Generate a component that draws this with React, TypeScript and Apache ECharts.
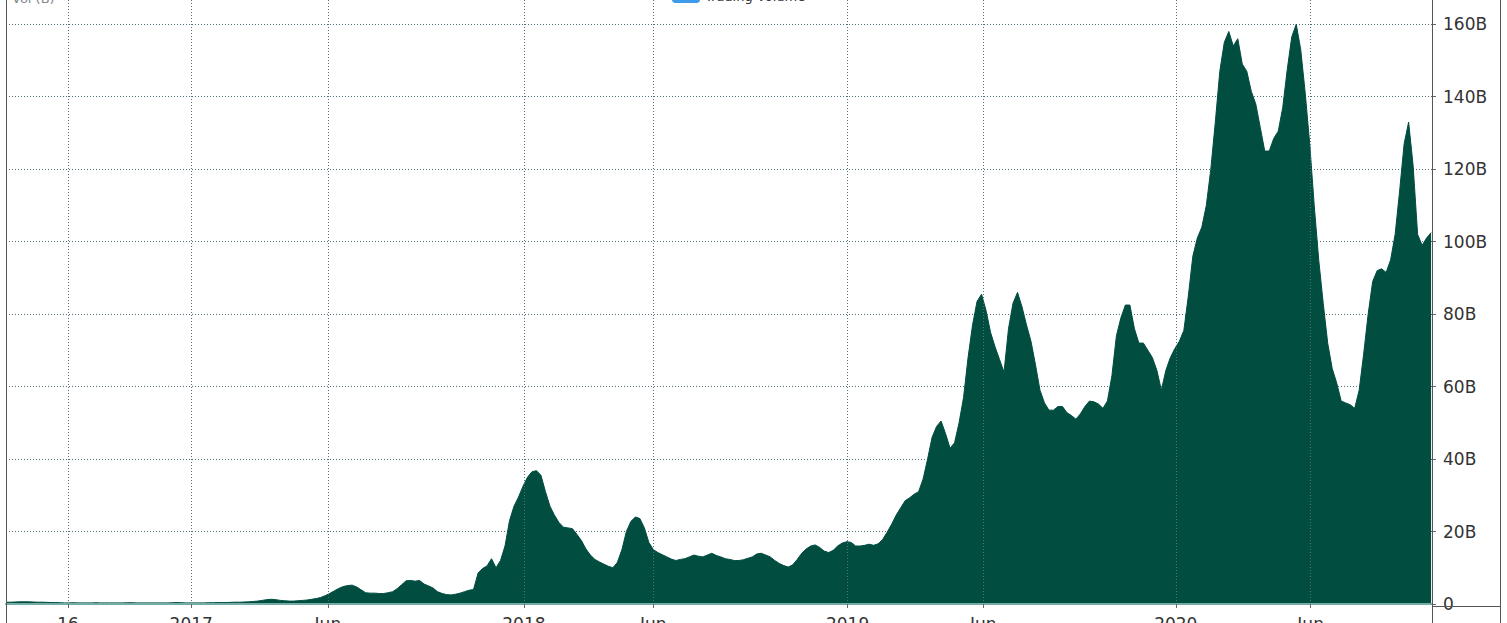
import React, { useEffect, useRef } from 'react';
import * as echarts from 'echarts';

// Five-day samples starting 2016-06-09 (values in billions)
const startYear = 2016;
const startMonth = 5; // June (0-based)
const startDay = 9;
const stepDays = 5;

const volumeB = [
  0.5, 0.5, 0.55, 0.6, 0.6, 0.6, 0.55, 0.5, 0.5, 0.45, 0.4, 0.4, 0.35,
  0.3, 0.3, 0.35, 0.3, 0.3, 0.3, 0.3, 0.35, 0.3, 0.3,
  0.3, 0.3, 0.3, 0.3, 0.35, 0.35, 0.3, 0.3, 0.3, 0.3,
  0.3, 0.3, 0.3, 0.3, 0.35, 0.4, 0.35, 0.3, 0.3, 0.3,
  0.3, 0.3, 0.35, 0.35, 0.4, 0.4, 0.4, 0.45, 0.5, 0.5,
  0.55, 0.6, 0.7,
  0.8, 1.0, 1.2, 1.3, 1.2, 1.0, 0.9, 0.8,
  0.8, 0.9, 1.0, 1.1, 1.3, 1.5,
  1.8, 2.3, 2.9, 3.6, 4.3, 4.8, 5.1, 5.2, 4.7, 3.9,
  3.1, 3.0, 3.0, 2.9, 2.9, 3.1, 3.4, 4.2, 5.3, 6.4,
  6.5, 6.3, 6.5, 5.5, 5.0, 4.4, 3.4, 2.9, 2.6, 2.5,
  2.7, 3.0, 3.4, 3.8, 4.0, 8.5, 9.8, 10.5, 12.5, 10,
  12, 16, 23, 27, 29.5, 32.5, 35, 36.5, 36.8, 35.5,
  31, 27, 24.5, 22.5, 21.2, 21, 20.8, 19.2, 17.5, 15.2,
  13.5, 12.3, 11.6, 11, 10.4, 10, 11.5, 15, 20, 22.8,
  24, 23.6, 21, 17, 15, 14.2, 13.6, 13, 12.4, 12,
  12.3, 12.5, 13, 13.5, 13.2, 13, 13.5, 14, 13.4, 13,
  12.5, 12.3, 12, 12, 12.2, 12.6, 13, 13.8, 14, 13.5,
  13, 12, 11.2, 10.6, 10.2, 10.8, 12.3, 14, 15.2, 16,
  16.3, 15.6, 14.6, 14.2, 14.8, 16, 16.8, 17.2, 17, 16,
  16, 16.2, 16.5, 16.2, 16.6, 17.8, 19.8, 22, 24.5, 26.5,
  28.5, 29.3, 30.3, 31, 34.5, 40, 46, 49, 50.5, 47,
  43, 44.5, 50, 57, 68, 77, 83.5, 85.5, 81, 75,
  71, 67.5, 64, 76, 83, 86, 82, 77, 72.5, 66,
  59, 55.5, 53.5, 53.5, 54.5, 54.5, 52.8, 52, 51, 52.5,
  54.5, 56, 55.8, 55.2, 54, 56, 63, 74, 79, 82.5,
  82.5, 76, 72, 72, 70, 68, 64.5, 59, 64.5, 68,
  70.5, 72.5, 75.5, 85, 96, 101, 104, 110, 120, 133,
  147, 155, 158, 154, 156, 149, 147, 141.5, 138, 131.5,
  125, 125, 128.5, 130.5, 137, 147.5, 156.5, 160, 153, 141,
  127, 110, 95, 83, 72, 65, 61, 56, 55.5, 55,
  54, 59, 69, 80, 89, 92, 92.5, 91.5, 95, 102,
  114, 127, 133, 121, 102, 99, 101, 102.5,
];

const axisMinDate = '2016-06-09';
const axisMaxDate = '2020-10-12';
const tickDates = [
  '2016-08-17', '2017-01-01', '2017-06-02', '2018-01-06', '2018-05-30',
  '2019-01-01', '2019-06-01', '2020-01-01', '2020-05-30',
];
const tickLabels = ['16', '2017', 'Jun', '2018', 'Jun', '2019', 'Jun', '2020', 'Jun'];

const yMin = 0;
const yMax = 170;
const yInterval = 20;

const seriesName = 'Trading Volume';
const unitTitle = 'Vol (B)';

const FILL = '#014d40';
const GRID = '#52707a';
const FRAME = '#555';

function parseLocal(s: string) {
  const [y, m, d] = s.split('-').map(Number);
  return new Date(y, m - 1, d).getTime();
}

export default function App() {
  const ref = useRef<HTMLDivElement>(null);

  useEffect(() => {
    document.body.style.overflow = 'hidden';
    const chart = echarts.init(ref.current!, undefined, { renderer: 'svg' });
    const data = volumeB.map((v, i) => [
      new Date(startYear, startMonth, startDay + i * stepDays).getTime(),
      v,
    ]);
    const tickValues = tickDates.map(parseLocal);
    const labelMap: Record<number, string> = {};
    tickValues.forEach((t, i) => {
      labelMap[t] = tickLabels[i];
    });

    const W = 1507;
    const H = 653;
    const plotRight = 1432;

    chart.setOption({
      animation: false,
      textStyle: { fontFamily: 'DejaVu Sans' },
      grid: {
        left: 6,
        right: W - plotRight,
        top: 18,
        bottom: 19,
        containLabel: false,
        outerBoundsMode: 'none',
      },
      legend: {
        show: true,
        left: 667,
        top: 14,
        itemWidth: 28,
        itemHeight: 14,
        icon: 'roundRect',
        textStyle: { fontSize: 13, color: '#333', fontFamily: 'DejaVu Sans' },
        data: [{ name: seriesName, itemStyle: { color: '#3d9be9' } }],
      },
      xAxis: {
        type: 'value',
        min: parseLocal(axisMinDate),
        max: parseLocal(axisMaxDate),
        z: 10,
        axisLine: { show: true, lineStyle: { color: '#73aca5', width: 2 } },
        axisTick: {
          show: true,
          customValues: tickValues,
          length: 4,
          lineStyle: { color: '#666' },
        },
        axisLabel: {
          customValues: tickValues,
          margin: 11,
          fontSize: 17,
          color: '#333',
          fontFamily: 'DejaVu Sans',
          formatter: (v: number, idx: number) =>
            labelMap[v] !== undefined ? labelMap[v] : tickLabels[idx] ?? '',
        },
        splitLine: {
          show: true,
          lineStyle: { color: GRID, type: [1, 2], width: 1 },
        },
      },
      yAxis: {
        type: 'value',
        position: 'right',
        min: yMin,
        max: yMax,
        interval: yInterval,
        axisLine: { show: false },
        axisTick: { show: true, length: 4, lineStyle: { color: '#666' } },
        axisLabel: {
          margin: 11,
          fontSize: 17,
          color: '#333',
          fontFamily: 'DejaVu Sans',
          formatter: (v: number) => (v === 0 ? '0' : v % 20 === 0 ? `${v}B` : ''),
        },
        splitLine: {
          show: true,
          lineStyle: { color: GRID, type: [1, 2], width: 1 },
        },
      },
      series: [
        {
          name: seriesName,
          type: 'line',
          data,
          showSymbol: false,
          symbol: 'none',
          lineStyle: { color: FILL, width: 1 },
          itemStyle: { color: FILL },
          areaStyle: { color: FILL, opacity: 1 },
        },
      ],
      graphic: [
        {
          type: 'text',
          left: 12,
          top: 22,
          style: { text: unitTitle, fill: '#888', fontSize: 13, fontFamily: 'DejaVu Sans' },
        },
        { type: 'line', shape: { x1: 6.5, y1: 0, x2: 6.5, y2: H }, style: { stroke: FRAME, lineWidth: 1 }, z: 20 },
        { type: 'line', shape: { x1: plotRight + 0.5, y1: 0, x2: plotRight + 0.5, y2: H }, style: { stroke: FRAME, lineWidth: 1 }, z: 20 },
        { type: 'line', shape: { x1: 1500.5, y1: 0, x2: 1500.5, y2: H }, style: { stroke: FRAME, lineWidth: 1 }, z: 20 },
        { type: 'line', shape: { x1: plotRight, y1: 636.5, x2: 1500, y2: 636.5 }, style: { stroke: FRAME, lineWidth: 1 }, z: 20 },
      ],
    });
    return () => chart.dispose();
  }, []);

  return (
    <div
      ref={ref}
      style={{ position: 'absolute', left: 0, top: -30, width: 1507, height: 653 }}
    />
  );
}
